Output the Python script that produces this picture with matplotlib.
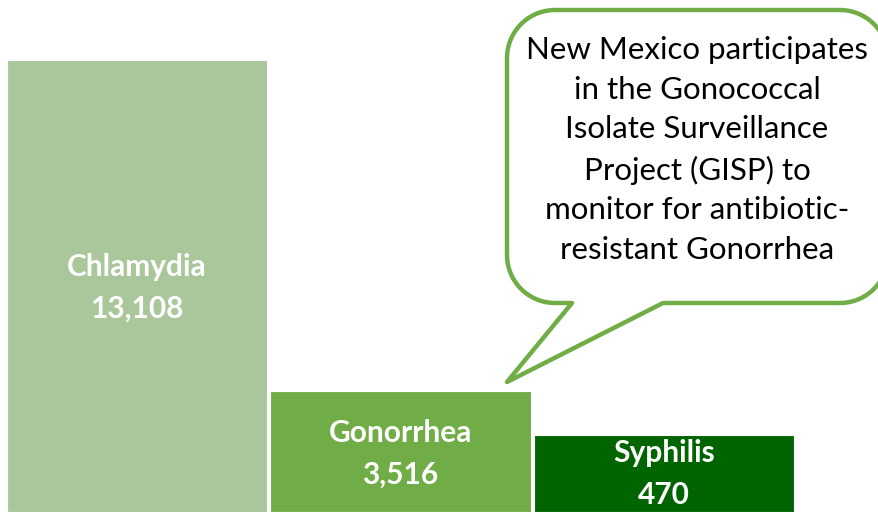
import matplotlib.pyplot as plt
from matplotlib.path import Path
from matplotlib.patches import PathPatch
import numpy as np

# data
diseases = ['Chlamydia', 'Gonorrhea', 'Syphilis']
cases = [13108, 3516, 470]
# heights as drawn in the original graphic (syphilis bar is enlarged for the label)
shown_heights = [13108, 3516, 2230]
colors = ['#A9C79B', '#70AD47', '#006400']
note = ('New Mexico participates\nin the Gonococcal\nIsolate Surveillance\n'
        'Project (GISP) to\nmonitor for antibiotic-\nresistant Gonorrhea')

W, H = 879, 512
plt.rcParams['font.family'] = ['Lato', 'DejaVu Sans']

fig = plt.figure(figsize=(W / 100, H / 100), dpi=100)
ax = fig.add_axes([0, 0, 1, 1])
ax.axis('off')

x = np.arange(len(diseases))
ax.bar(x, shown_heights, width=0.99, color=colors, edgecolor='white', linewidth=0.8)
ax.set_xlim(-0.52, 2.816)
ax.set_ylim(0, 13108 * 512 / 452)

# label centres (pixels from top)
label_y = [288, 454, 474]
for i, (name, val) in enumerate(zip(diseases, cases)):
    ax.text(i, 1 - label_y[i] / H, f'{name}\n{val:,}', ha='center', va='center',
            color='white', fontsize=21.5, fontweight='bold', linespacing=1.6,
            transform=ax.get_xaxis_transform())


# speech bubble, built in reference pixel coords (y from top)
def px(pts):
    return [(a / W, 1 - b / H) for a, b in pts]


left, top, right, bottom, r = 507, 10, 888, 303, 48
pts = []


def arc(cx, cy, a0, a1):
    for t in np.linspace(np.radians(a0), np.radians(a1), 20):
        pts.append((cx + r * np.cos(t), cy - r * np.sin(t)))


arc(left + r, top + r, 180, 90)
arc(right - r, top + r, 90, 0)
arc(right - r, bottom - r, 0, -90)
pts += [(663, bottom), (507, 382), (572, bottom)]
arc(left + r, bottom - r, -90, -180)
pts.append(pts[0])

path = Path(px(pts))
ax.add_patch(PathPatch(path, transform=ax.transAxes, facecolor='white',
                       edgecolor='#70AD47', linewidth=3.2, joinstyle='round',
                       clip_on=False))

ax.text(697 / W, 1 - 150 / H, note, transform=ax.transAxes, ha='center',
        va='center', fontsize=22.5, linespacing=1.5, color='black')

fig.savefig('out.png', dpi=100)
